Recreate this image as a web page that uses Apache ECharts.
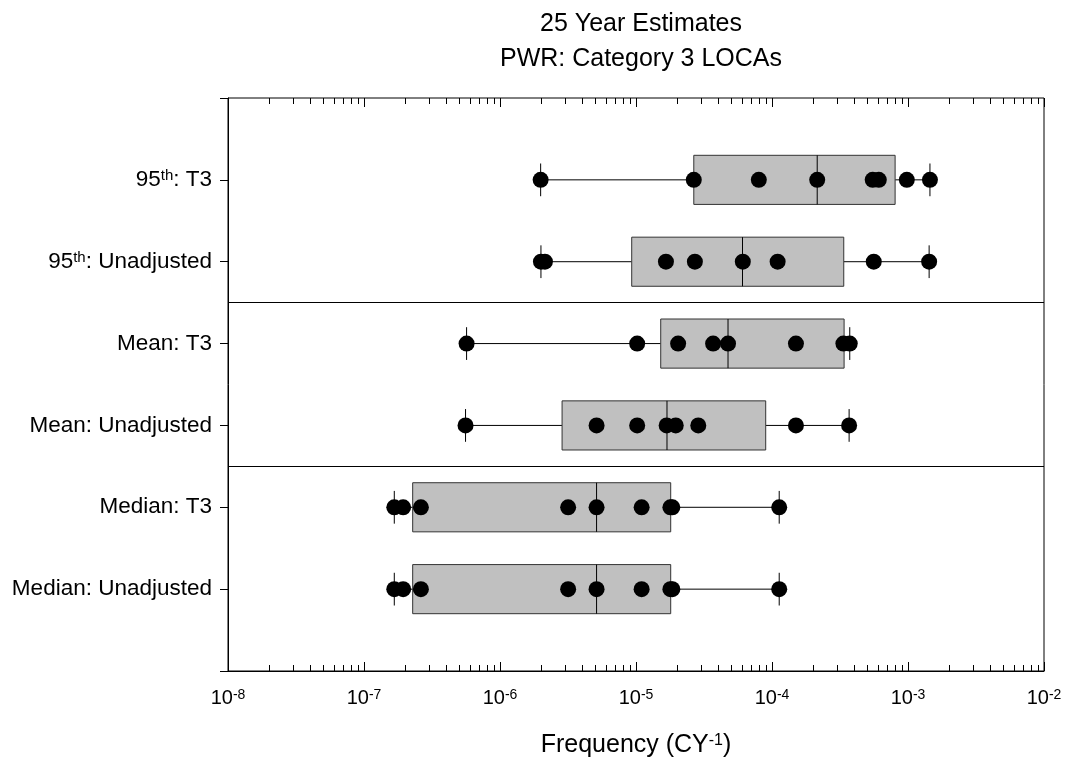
<!DOCTYPE html>
<html>
<head>
<meta charset="utf-8">
<script src="https://cdn.jsdelivr.net/npm/echarts@6/dist/echarts.min.js"></script>
<style>
    html, body { margin: 0; padding: 0; background: #ffffff; }
    #main { width: 1065px; height: 761px; }
</style>
</head>
<body>
<div id="main"></div>
<script>
    // row labels (top to bottom), {sup|..} is the superscript
    var rowLabels = [
        '95{sup|th}: T3',
        '95{sup|th}: Unadjusted',
        'Mean: T3',
        'Mean: Unadjusted',
        'Median: T3',
        'Median: Unadjusted'
    ];

    // box stats per row
    var boxMin    = [1.99e-6, 2.0e-6,  5.68e-7, 5.58e-7, 1.67e-7, 1.67e-7];
    var boxQ1     = [2.66e-5, 9.3e-6,  1.52e-5, 2.86e-6, 2.28e-7, 2.28e-7];
    var boxMedian = [2.15e-4, 6.07e-5, 4.75e-5, 1.69e-5, 5.13e-6, 5.13e-6];
    var boxQ3     = [8.04e-4, 3.37e-4, 3.39e-4, 8.99e-5, 1.80e-5, 1.80e-5];
    var boxMax    = [1.45e-3, 1.43e-3, 3.73e-4, 3.69e-4, 1.13e-4, 1.13e-4];

    // individual estimates per row
    var pts95T3      = [1.99e-6, 2.66e-5, 8.0e-5, 2.15e-4, 5.5e-4, 6.1e-4, 9.8e-4, 1.45e-3];
    var pts95Unadj   = [2.0e-6, 2.14e-6, 1.66e-5, 2.71e-5, 6.1e-5, 1.10e-4, 5.6e-4, 1.43e-3];
    var ptsMeanT3    = [5.68e-7, 1.02e-5, 2.04e-5, 3.69e-5, 4.75e-5, 1.50e-4, 3.35e-4, 3.73e-4];
    var ptsMeanUnadj = [5.58e-7, 5.13e-6, 1.02e-5, 1.68e-5, 1.96e-5, 2.87e-5, 1.50e-4, 3.69e-4];
    var ptsMedT3     = [1.67e-7, 1.94e-7, 2.62e-7, 3.17e-6, 5.13e-6, 1.10e-5, 1.79e-5, 1.85e-5, 1.13e-4];
    var ptsMedUnadj  = [1.67e-7, 1.94e-7, 2.62e-7, 3.17e-6, 5.13e-6, 1.10e-5, 1.79e-5, 1.85e-5, 1.13e-4];

    var rowPoints = [pts95T3, pts95Unadj, ptsMeanT3, ptsMeanUnadj, ptsMedT3, ptsMedUnadj];

    // group separators (between rows)
    var separators = [2.5, 4.5];

    var xMin = 1e-8, xMax = 1e-2;

    // minor ticks 2..9 x 10^k
    var minorTicks = [];
    for (var e = -8; e < -2; e++) {
        for (var m = 2; m <= 9; m++) {
            minorTicks.push(m * Math.pow(10, e));
        }
    }

    var boxData = [];
    var scatterData = [];
    for (var i = 0; i < rowLabels.length; i++) {
        boxData.push([i + 1, boxMin[i], boxQ1[i], boxMedian[i], boxQ3[i], boxMax[i]]);
        for (var j = 0; j < rowPoints[i].length; j++) {
            scatterData.push([rowPoints[i][j], i + 1]);
        }
    }

    var FONT = 'Liberation Sans';

    function renderBox(params, api) {
        var row = api.value(0);
        var lo = api.value(1), q1 = api.value(2), med = api.value(3), q3 = api.value(4), hi = api.value(5);
        var y = api.coord([q1, row])[1];
        var yTop = api.coord([q1, row - 0.3])[1];
        var yBot = api.coord([q1, row + 0.3])[1];
        var cTop = api.coord([q1, row - 0.2])[1];
        var cBot = api.coord([q1, row + 0.2])[1];
        var xLo = api.coord([lo, row])[0];
        var xQ1 = api.coord([q1, row])[0];
        var xMed = api.coord([med, row])[0];
        var xQ3 = api.coord([q3, row])[0];
        var xHi = api.coord([hi, row])[0];
        var lineStyle = { stroke: '#000', lineWidth: 1 };
        return {
            type: 'group',
            children: [
                { type: 'line', shape: { x1: xLo, y1: y, x2: xQ1, y2: y }, style: lineStyle },
                { type: 'line', shape: { x1: xQ3, y1: y, x2: xHi, y2: y }, style: lineStyle },
                { type: 'line', shape: { x1: xLo, y1: cTop, x2: xLo, y2: cBot }, style: lineStyle },
                { type: 'line', shape: { x1: xHi, y1: cTop, x2: xHi, y2: cBot }, style: lineStyle },
                {
                    type: 'rect',
                    shape: { x: xQ1, y: Math.min(yTop, yBot), width: xQ3 - xQ1, height: Math.abs(yBot - yTop) },
                    style: { fill: '#c0c0c0', stroke: '#333', lineWidth: 1 }
                },
                { type: 'line', shape: { x1: xMed, y1: Math.min(yTop, yBot), x2: xMed, y2: Math.max(yTop, yBot) }, style: lineStyle }
            ]
        };
    }

    var myChart = echarts.init(document.getElementById('main'));

    var supRich = {
        sup: { fontSize: 14, verticalAlign: 'top', lineHeight: 12, fontFamily: FONT, color: '#000' }
    };

    function logAxis(pos, extra) {
        var ax = {
            type: 'log',
            logBase: 10,
            min: xMin,
            max: xMax,
            position: pos,
            axisLine: { show: false, onZero: false },
            axisLabel: { show: false },
            axisTick: { show: false },
            splitLine: { show: false }
        };
        for (var k in extra) ax[k] = extra[k];
        return ax;
    }

    var option = {
        backgroundColor: '#fff',
        animation: false,
        textStyle: { fontFamily: FONT },
        title: {
            text: '25 Year Estimates\nPWR: Category 3 LOCAs',
            left: 636,
            top: 2,
            textAlign: 'center',
            textStyle: {
                fontSize: 25,
                fontWeight: 'normal',
                color: '#000',
                fontFamily: FONT,
                lineHeight: 35
            }
        },
        grid: {
            left: 228,
            right: 21,
            top: 98,
            bottom: 90,
            show: true,
            borderColor: '#000',
            borderWidth: 1,
            containLabel: false,
            outerBoundsMode: 'none'
        },
        xAxis: [
            logAxis('bottom', {
                name: 'Frequency (CY{sup|-1})',
                nameLocation: 'middle',
                nameGap: 62,
                nameTextStyle: {
                    fontSize: 25,
                    color: '#000',
                    fontFamily: FONT,
                    rich: {
                        sup: { fontSize: 16, verticalAlign: 'top', lineHeight: 14, fontFamily: FONT, color: '#000' }
                    }
                },
                axisLine: { show: true, onZero: false, lineStyle: { color: '#000', width: 1 } },
                axisTick: { show: true, inside: true, length: 9, lineStyle: { color: '#000' } },
                axisLabel: {
                    show: true,
                    margin: 17,
                    fontSize: 20,
                    color: '#000',
                    fontFamily: FONT,
                    formatter: function (v) {
                        return '10{sup|' + Math.round(Math.log10(v)) + '}';
                    },
                    rich: supRich
                }
            }),
            logAxis('bottom', {
                axisTick: { show: true, inside: true, length: 6, customValues: minorTicks, lineStyle: { color: '#000' } }
            }),
            logAxis('top', {
                axisTick: { show: true, inside: true, length: 9, lineStyle: { color: '#000' } }
            }),
            logAxis('top', {
                axisTick: { show: true, inside: true, length: 6, customValues: minorTicks, lineStyle: { color: '#000' } }
            })
        ],
        yAxis: {
            type: 'value',
            min: 0,
            max: 7,
            interval: 1,
            inverse: true,
            axisLine: { show: true, onZero: false, lineStyle: { color: '#000', width: 1 } },
            axisTick: { show: true, inside: false, length: 8, lineStyle: { color: '#000' } },
            axisLabel: {
                margin: 16,
                fontSize: 22.5,
                color: '#000',
                fontFamily: FONT,
                formatter: function (v) {
                    return rowLabels[v - 1] || '';
                },
                rich: {
                    sup: { fontSize: 15, verticalAlign: 'top', lineHeight: 12, fontFamily: FONT, color: '#000' }
                }
            },
            splitLine: { show: false }
        },
        series: [
            {
                name: 'box',
                type: 'custom',
                xAxisIndex: 0,
                renderItem: renderBox,
                encode: { x: [1, 2, 3, 4, 5], y: 0 },
                data: boxData,
                z: 2,
                silent: true,
                markLine: {
                    silent: true,
                    symbol: ['none', 'none'],
                    label: { show: false },
                    lineStyle: { color: '#000', width: 1, type: 'solid' },
                    data: separators.map(function (s) { return { yAxis: s }; })
                }
            },
            {
                name: 'points',
                type: 'scatter',
                xAxisIndex: 0,
                symbol: 'circle',
                symbolSize: 16,
                itemStyle: { color: '#000', opacity: 1 },
                data: scatterData,
                z: 3,
                silent: true
            }
        ]
    };
    myChart.setOption(option);
</script>
</body>
</html>
